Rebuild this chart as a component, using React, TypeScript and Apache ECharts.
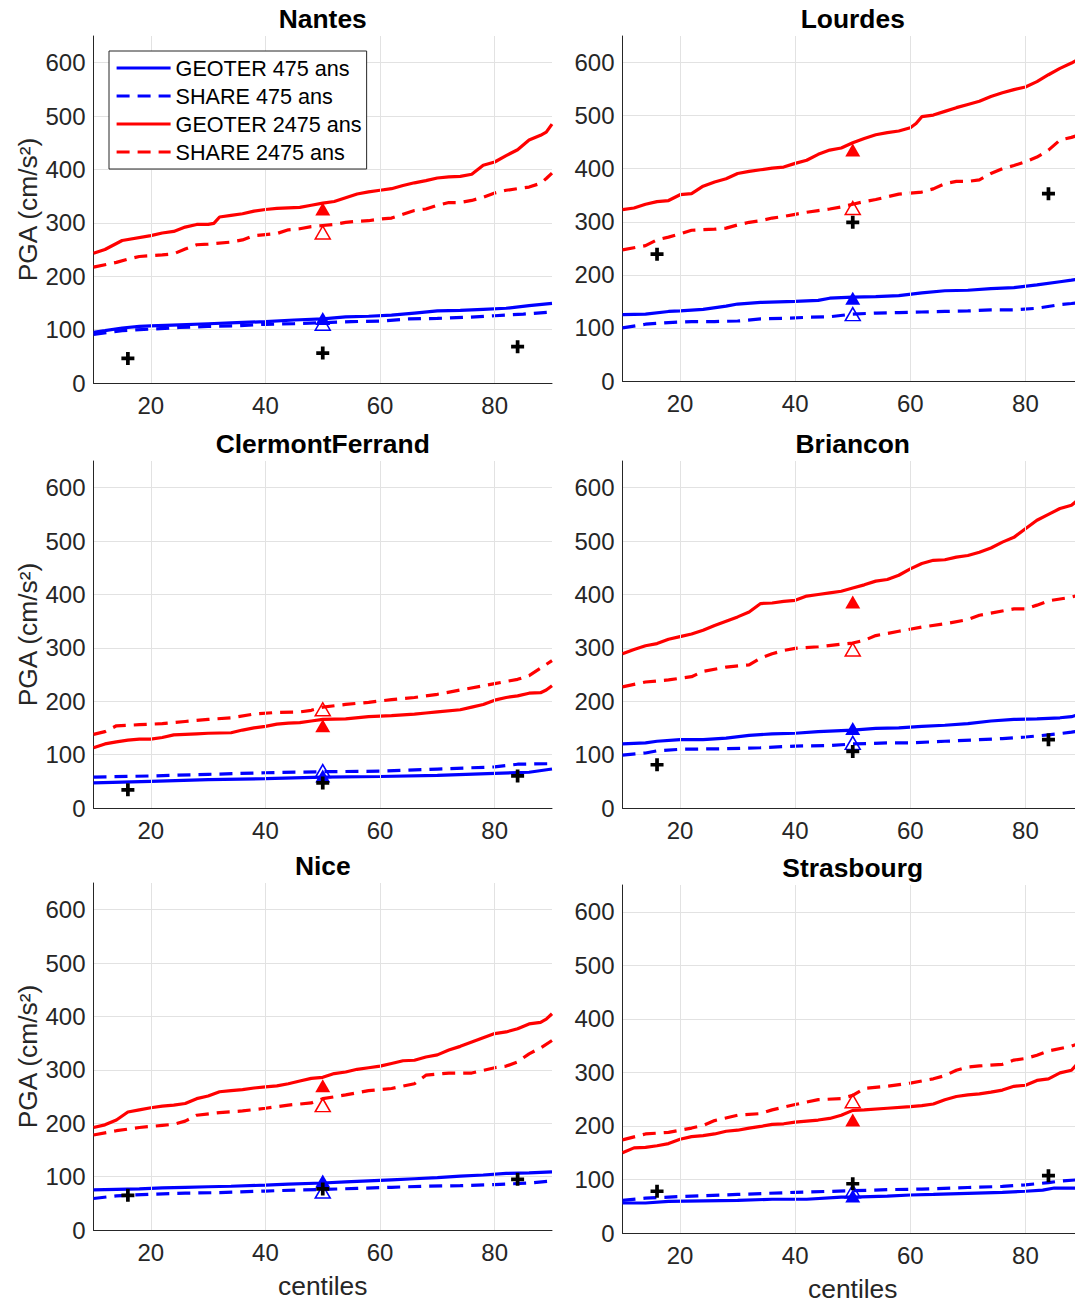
import React, { useEffect, useRef } from 'react';
import * as echarts from 'echarts';

type P = [number, number][];

// ---------- DATA ----------
const cityNames = ['Nantes', 'Lourdes', 'ClermontFerrand', 'Briancon', 'Nice', 'Strasbourg'];
const legendNames = ['GEOTER 475 ans', 'SHARE 475 ans', 'GEOTER 2475 ans', 'SHARE 2475 ans'];
const xTickValues = [20, 40, 60, 80];

// Nantes
const nantesG475: P = [[10,95],[12,98],[15,103],[18,106],[20,107],[25,109],[30,111],[35,113],[40,115],[45,118],[50,120],[54,124],[58,125],[62,127],[66,131],[70,135],[74,136],[78,138],[82,140],[86,145],[90,149]];
const nantesS475: P = [[10,91],[15,98],[20,101],[25,104],[30,106],[35,107],[40,110],[45,111],[50,113],[55,115],[60,116],[65,120],[70,121],[75,123],[80,126],[85,129],[90,133]];
const nantesG2475: P = [[10,243],[12,250],[15,267],[20,276],[22,281],[24,284],[26,292],[28,297],[30,297],[31,299],[32,311],[34,314],[36,317],[38,322],[40,325],[42,327],[44,328],[46,329],[48,333],[50,337],[52,340],[54,347],[56,354],[58,358],[60,361],[62,364],[64,370],[66,375],[68,379],[70,384],[72,386],[74,387],[76,391],[78,408],[80,414],[82,426],[84,437],[86,455],[88,464],[89,470],[90,485]];
const nantesS2475: P = [[10,217],[14,226],[16,232],[18,237],[22,240],[24,242],[26,251],[28,259],[30,260],[34,264],[36,268],[38,276],[40,278],[42,280],[44,287],[46,289],[48,293],[50,295],[52,297],[54,301],[56,303],[58,304],[60,307],[62,309],[64,316],[66,323],[68,326],[70,333],[72,338],[74,338],[76,342],[78,348],[80,356],[82,361],[84,364],[86,367],[88,374],[89,383],[90,393]];
const nantesMedians = [121, 111, 326, 282]; // G475, S475, G2475, S2475 at 50th centile
const nantesPlus: P = [[16,46],[50,56],[84,68]];

// Lourdes
const lourdesG475: P = [[10,125],[14,126],[18,131],[20,132],[24,135],[28,141],[30,145],[34,148],[40,150],[44,152],[46,156],[50,158],[54,159],[58,161],[62,166],[66,170],[70,171],[74,174],[78,176],[82,181],[86,187],[88,190],[90,194]];
const lourdesS475: P = [[10,100],[14,107],[18,110],[22,112],[26,112],[30,113],[34,117],[38,118],[42,120],[46,121],[50,126],[54,128],[58,129],[62,130],[66,131],[70,132],[74,134],[78,134],[82,137],[86,144],[88,146],[90,149]];
const lourdesG2475: P = [[10,323],[12,326],[14,333],[16,338],[18,340],[20,351],[22,353],[24,367],[26,375],[28,381],[30,391],[32,395],[34,398],[36,401],[38,403],[40,410],[42,416],[44,427],[46,435],[48,439],[50,449],[52,457],[54,464],[56,468],[58,471],[60,477],[61,485],[62,498],[64,501],[66,508],[68,515],[70,521],[72,527],[74,536],[76,543],[78,549],[80,554],[82,564],[84,577],[86,589],[88,599],[90,611]];
const lourdesS2475: P = [[10,247],[14,255],[16,266],[18,271],[20,277],[22,284],[24,285],[26,286],[28,288],[30,294],[32,299],[34,302],[36,307],[38,310],[40,314],[42,318],[44,321],[46,324],[48,328],[50,333],[52,338],[54,342],[56,347],[58,352],[60,354],[62,356],[64,362],[66,372],[68,376],[70,376],[72,379],[74,391],[76,400],[78,406],[80,413],[82,422],[84,435],[86,454],[88,459],[90,466]];
const lourdesMedians = [156, 126, 435, 326];
const lourdesPlus: P = [[16,239],[50,299],[84,353]];

// ClermontFerrand
const clermontG475: P = [[10,47],[20,50],[30,53],[40,55],[50,58],[60,59],[70,61],[80,65],[86,67],[90,73]];
const clermontS475: P = [[10,58],[20,60],[30,63],[40,66],[50,68],[60,69],[70,73],[80,77],[84,82],[90,83]];
const clermontG2475: P = [[10,113],[12,120],[14,124],[16,127],[18,129],[20,129],[22,132],[24,137],[26,138],[28,139],[30,140],[34,141],[36,146],[38,150],[40,153],[42,157],[44,159],[46,160],[48,163],[50,166],[54,167],[58,171],[62,173],[66,176],[68,178],[70,180],[74,184],[76,189],[78,194],[80,202],[82,207],[84,210],[86,215],[88,216],[89,221],[90,229]];
const clermontS2475: P = [[10,138],[12,143],[14,154],[18,156],[22,158],[26,162],[30,166],[34,169],[38,176],[42,179],[46,180],[48,183],[50,189],[54,194],[58,198],[62,203],[66,207],[70,213],[74,221],[78,229],[80,233],[84,241],[86,248],[88,262],[90,276]];
const clermontMedians = [60, 69, 154, 185];
const clermontPlus: P = [[16,34],[50,47],[84,60]];

// Briancon
const brianconG475: P = [[10,120],[14,122],[16,125],[20,128],[24,128],[28,131],[32,136],[36,139],[40,140],[44,143],[48,145],[50,146],[54,149],[58,150],[62,153],[66,155],[70,158],[74,163],[78,166],[82,167],[86,169],[88,171],[90,178]];
const brianconS475: P = [[10,99],[14,103],[16,107],[20,110],[28,111],[34,113],[40,116],[46,117],[50,120],[56,122],[60,122],[66,125],[72,128],[76,130],[80,133],[84,137],[88,142],[90,145]];
const brianconG2475: P = [[10,289],[12,297],[14,304],[16,308],[18,316],[20,321],[22,326],[24,333],[26,342],[28,350],[30,358],[32,367],[34,383],[36,384],[38,387],[40,389],[42,397],[44,400],[46,403],[48,406],[50,412],[52,418],[54,425],[56,428],[58,436],[60,448],[62,458],[64,464],[66,465],[68,470],[70,473],[72,479],[74,487],[76,498],[78,507],[80,523],[82,539],[84,550],[86,561],[88,567],[89,576],[90,586]];
const brianconS2475: P = [[10,227],[14,236],[18,240],[22,246],[24,256],[28,264],[32,268],[34,281],[36,289],[38,295],[40,299],[44,302],[48,307],[50,309],[52,314],[54,323],[58,331],[62,339],[66,345],[70,353],[72,361],[74,365],[78,373],[80,373],[82,380],[84,388],[88,395],[90,401]];
const brianconMedians = [149, 122, 386, 297];
const brianconPlus: P = [[16,81],[50,106],[84,128]];

// Nice
const niceG475: P = [[10,75],[14,76],[18,77],[22,79],[26,80],[30,81],[34,82],[40,84],[44,86],[50,88],[54,90],[58,92],[62,94],[66,96],[70,98],[74,101],[78,103],[82,106],[86,107],[90,109]];
const niceS475: P = [[10,59],[14,64],[20,67],[26,69],[32,70],[40,73],[46,75],[50,76],[56,78],[62,80],[68,82],[74,83],[80,85],[86,88],[90,92]];
const niceG2475: P = [[10,192],[12,197],[14,206],[16,221],[18,225],[20,229],[22,232],[24,234],[26,237],[28,246],[30,251],[32,259],[34,261],[36,263],[38,266],[40,268],[42,270],[44,274],[46,279],[48,284],[50,286],[52,293],[54,296],[56,301],[58,304],[60,307],[62,312],[64,317],[66,318],[68,324],[70,328],[72,337],[74,344],[76,352],[78,360],[80,368],[82,371],[84,377],[86,386],[88,389],[89,395],[90,405]];
const niceS2475: P = [[10,178],[14,186],[18,192],[22,196],[24,198],[26,204],[28,215],[32,220],[36,223],[40,228],[44,234],[48,238],[50,246],[54,253],[58,261],[62,265],[66,274],[68,290],[72,294],[76,294],[78,299],[80,304],[82,307],[84,315],[86,330],[88,341],[90,355]];
const niceMedians = [92, 72, 270, 234];
const nicePlus: P = [[16,65],[50,77],[84,95]];

// Strasbourg
const strasG475: P = [[10,56],[14,56],[18,59],[24,60],[30,61],[36,63],[42,63],[48,67],[50,67],[56,69],[60,71],[64,72],[70,74],[76,76],[80,78],[83,80],[85,84],[90,84]];
const strasS475: P = [[10,61],[14,65],[20,68],[30,72],[40,76],[50,79],[56,81],[62,82],[70,85],[76,87],[80,90],[84,94],[86,97],[90,100]];
const strasG2475: P = [[10,150],[12,159],[14,160],[16,163],[18,167],[20,175],[22,180],[24,182],[26,185],[28,190],[30,192],[32,196],[34,199],[36,203],[38,204],[40,207],[42,209],[44,211],[46,214],[48,220],[50,229],[52,230],[56,233],[60,236],[62,238],[64,241],[66,249],[68,255],[70,258],[72,260],[74,263],[76,267],[78,274],[80,276],[82,285],[84,288],[86,299],[88,304],[89,316],[90,323]];
const strasS2475: P = [[10,174],[14,185],[18,188],[22,196],[24,201],[26,210],[30,220],[34,223],[36,230],[40,240],[44,249],[48,251],[50,257],[52,270],[56,274],[60,280],[64,288],[66,294],[68,304],[70,310],[72,312],[76,315],[78,323],[80,326],[82,332],[84,340],[88,349],[90,357]];
const strasMedians = [69, 78, 211, 246];
const strasPlus: P = [[16,78],[50,92],[84,107]];

const citySeries = [
  [nantesG475, nantesS475, nantesG2475, nantesS2475],
  [lourdesG475, lourdesS475, lourdesG2475, lourdesS2475],
  [clermontG475, clermontS475, clermontG2475, clermontS2475],
  [brianconG475, brianconS475, brianconG2475, brianconS2475],
  [niceG475, niceS475, niceG2475, niceS2475],
  [strasG475, strasS475, strasG2475, strasS2475],
];
const cityMedians = [nantesMedians, lourdesMedians, clermontMedians, brianconMedians, niceMedians, strasMedians];
const cityPlus = [nantesPlus, lourdesPlus, clermontPlus, brianconPlus, nicePlus, strasPlus];

// ---------- LAYOUT ----------
const FONT = '"Liberation Sans", Arial, Helvetica, sans-serif';
const AX = '#262626';
const GRIDC = '#e2e2e2';
const TICK_FS = 24;
const LABEL_FS = 26.4;
const grids = [
  { left: 93.5, top: 36, width: 458.5, height: 347 },
  { left: 622.5, top: 36, width: 460.5, height: 345 },
  { left: 93.5, top: 461, width: 458.5, height: 347 },
  { left: 622.5, top: 461, width: 460.5, height: 347 },
  { left: 93.5, top: 883, width: 458.5, height: 347 },
  { left: 622.5, top: 885, width: 460.5, height: 348 },
];
const PLUS = 'path://M5,0H9V5H14V9H9V14H5V9H0V5H5Z';
const colors = ['#0000ff', '#0000ff', '#ff0000', '#ff0000'];
const dashed = [false, true, false, true];

function buildOption() {
  const xAxis: any[] = [];
  const yAxis: any[] = [];
  const series: any[] = [];
  const graphic: any[] = [];

  grids.forEach((g, i) => {
    const isLeft = i % 2 === 0;
    const isBottom = i >= 4;
    xAxis.push({
      type: 'value', gridIndex: i, min: 10, max: 90, interval: 10,
      axisLine: { show: true, lineStyle: { color: AX, width: 1 } },
      axisTick: { show: false },
      splitLine: { show: false },
      axisLabel: {
        formatter: (v: number) => (xTickValues.includes(v) ? String(v) : ''),
        fontSize: TICK_FS, color: AX, fontFamily: FONT, margin: 10,
      },
      name: isBottom ? 'centiles' : '',
      nameLocation: 'middle', nameGap: 43,
      nameTextStyle: { fontSize: LABEL_FS, color: AX, fontFamily: FONT },
    });
    yAxis.push({
      type: 'value', gridIndex: i, min: 0, max: 650, interval: 100,
      axisLine: { show: true, lineStyle: { color: AX, width: 1 } },
      axisTick: { show: false },
      splitLine: { show: true, showMaxLine: false, lineStyle: { color: GRIDC, width: 1 } },
      axisLabel: {
        formatter: (v: number) => (v > 600 ? '' : String(v)),
        fontSize: TICK_FS, color: AX, fontFamily: FONT, margin: 8, showMaxLabel: false,
      },
      name: isLeft ? 'PGA (cm/s²)' : '',
      nameLocation: 'middle', nameGap: 53, nameRotate: 90,
      nameTextStyle: { fontSize: LABEL_FS, color: AX, fontFamily: FONT },
    });

    // vertical grid lines
    series.push({
      type: 'line', xAxisIndex: i, yAxisIndex: i, data: [], silent: true, z: 0,
      markLine: {
        silent: true, symbol: ['none', 'none'], animation: false,
        label: { show: false },
        lineStyle: { color: GRIDC, width: 1, type: 'solid' },
        data: xTickValues.map((v) => ({ xAxis: v })),
      },
    });

    citySeries[i].forEach((d, k) => {
      series.push({
        name: legendNames[k], type: 'line', xAxisIndex: i, yAxisIndex: i,
        data: d, symbol: 'none', showSymbol: false, z: 2,
        lineStyle: { color: colors[k], width: 3.2, type: dashed[k] ? [13, 8] : 'solid' },
        itemStyle: { color: colors[k] },
      });
    });

    cityMedians[i].forEach((v, k) => {
      const filled = !dashed[k];
      series.push({
        type: 'scatter', xAxisIndex: i, yAxisIndex: i, z: 4,
        data: [[50, v]], symbol: 'triangle', symbolSize: [15, 13],
        itemStyle: filled
          ? { color: colors[k], opacity: 1 }
          : { color: 'rgba(0,0,0,0)', borderColor: colors[k], borderWidth: 1.5, opacity: 1 },
      });
    });

    series.push({
      type: 'scatter', xAxisIndex: i, yAxisIndex: i, z: 5,
      data: cityPlus[i], symbol: PLUS, symbolSize: 13,
      itemStyle: { color: '#000', opacity: 1 },
    });

    graphic.push({
      type: 'text',
      x: g.left + g.width / 2,
      y: g.top - 17,
      style: {
        text: cityNames[i], fill: '#000', fontSize: LABEL_FS, fontWeight: 'bold', fontFamily: FONT,
        align: 'center', verticalAlign: 'middle', textAlign: 'center', textVerticalAlign: 'middle',
      },
    });
  });

  return {
    animation: false,
    backgroundColor: '#ffffff',
    grid: grids.map((g) => ({ ...g, containLabel: false, outerBoundsMode: 'none' })),
    xAxis, yAxis, series, graphic,
    legend: {
      show: true, data: legendNames, orient: 'vertical', left: 109, top: 51,
      itemWidth: 54, itemHeight: 22, itemGap: 6, padding: [6, 5, 6, 6],
      borderColor: AX, borderWidth: 1, backgroundColor: '#ffffff',
      itemStyle: { opacity: 0 },
      lineStyle: { width: 3.2 },
      textStyle: { fontSize: 21.6, color: '#000', fontFamily: FONT },
      selectedMode: false, z: 10,
    },
  };
}

export default function App() {
  const ref = useRef<HTMLDivElement>(null);
  useEffect(() => {
    if (!ref.current) return;
    const chart = echarts.init(ref.current, undefined, { renderer: 'svg' });
    chart.setOption(buildOption() as any);
    return () => chart.dispose();
  }, []);
  return (
    <div
      ref={ref}
      style={{ position: 'fixed', left: 0, top: 0, width: 1075, height: 1303, background: '#fff' }}
    />
  );
}
